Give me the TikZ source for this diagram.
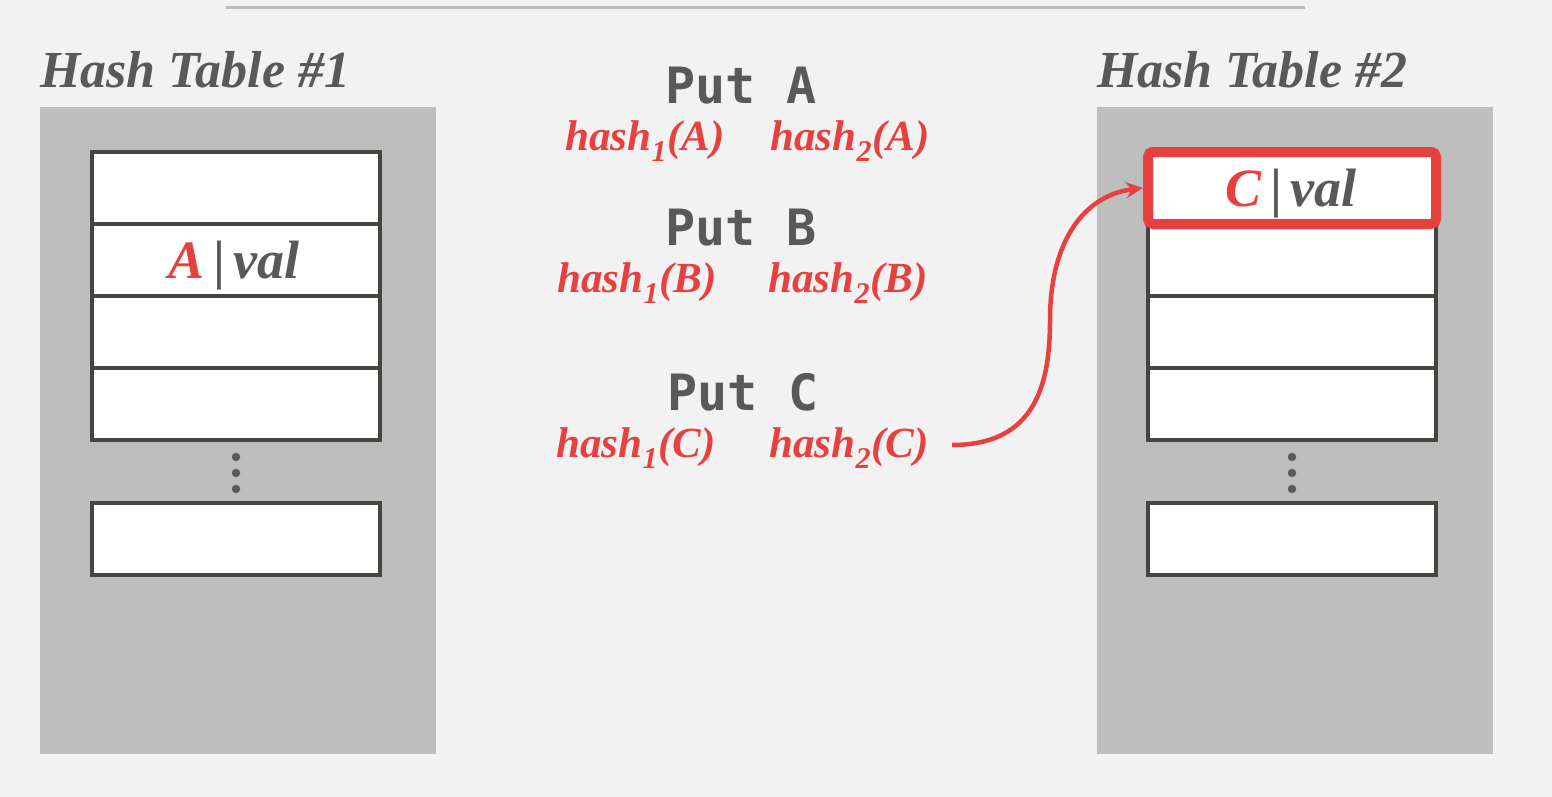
\documentclass[tikz,border=0pt]{standalone}
\usepackage{fontspec}
\setmainfont{Liberation Serif}
\setmonofont{DejaVu Sans Mono}
\usetikzlibrary{arrows.meta}
\definecolor{bg}{HTML}{F2F2F2}
\definecolor{panel}{HTML}{BEBEBE}
\definecolor{ink}{HTML}{595959}
\definecolor{cellline}{HTML}{46443F}
\definecolor{hot}{HTML}{E8403F}
\definecolor{rule}{HTML}{BBBBBB}
% key | value separator bar
\newcommand{\kvbar}{\,\textup{\textbf{|}}\,}
\begin{document}
\begin{tikzpicture}[x=1pt,y=-1pt,
  title/.style={font=\fontsize{52}{60}\selectfont\bfseries\itshape, text=ink, anchor=base west, inner sep=0},
  cmd/.style={font=\fontsize{50}{58}\selectfont\ttfamily\bfseries, text=ink, anchor=base, inner sep=0},
  hashlbl/.style={font=\fontsize{43}{50}\selectfont\bfseries\itshape, text=hot, anchor=base, inner sep=0},
  slot/.style={draw=cellline, fill=white, line width=4.5pt, minimum width=288pt, minimum height=72pt, inner sep=0, outer sep=0},
  entry/.style={font=\fontsize{54}{62}\selectfont\bfseries\itshape, text=ink, anchor=base, inner sep=0},
  dot/.style={circle, fill=ink, minimum size=8.5pt, inner sep=0},
  bucket/.style={fill=panel, draw=none}
]
\useasboundingbox (0,0) rectangle (1552,797);
\fill[bg] (0,0) rectangle (1552,797);
\draw[rule, line width=3pt] (226,8) -- (1305,8);

% panels
\fill[panel] (40,107) rectangle (436,754);
\fill[panel] (1097,107) rectangle (1493,754);

% titles
\node[title] (t1) at (40,88) {Hash Table \#1};
\node[title] (t2) at (1097,88) {Hash Table \#2};

% table 1
\node[slot] (l1) at (236,188) {};
\node[slot] (l2) at (236,260) {};
\node[slot] (l3) at (236,332) {};
\node[slot] (l4) at (236,404) {};
\node[slot] (l5) at (236,539) {};
\node[dot] (ld1) at (236,457) {};
\node[dot] (ld2) at (236,473) {};
\node[dot] (ld3) at (236,489) {};
\node[entry] (la) at (234,278) {\textcolor{hot}{A}\kvbar val};

% table 2
\node[slot] (r2) at (1292,260) {};
\node[slot] (r3) at (1292,332) {};
\node[slot] (r4) at (1292,404) {};
\node[slot] (r5) at (1292,539) {};
\node[slot] (r1) at (1292,188) {};
\node[dot] (rd1) at (1292,457) {};
\node[dot] (rd2) at (1292,473) {};
\node[dot] (rd3) at (1292,489) {};
\node[draw=hot, line width=10pt, rounded corners=5pt, minimum width=288pt, minimum height=72pt, inner sep=0] (rc) at (1292,188) {};
\node[entry] (rct) at (1291,206) {\textcolor{hot}{C}\kvbar val};

% operations
\node[cmd] (pa) at (741,104) {Put A};
\node[hashlbl] (h1a) at (645,150) {hash\textsubscript{1}(A)};
\node[hashlbl] (h2a) at (850,150) {hash\textsubscript{2}(A)};

\node[cmd] (pb) at (741,245) {Put B};
\node[hashlbl] (h1b) at (637,292) {hash\textsubscript{1}(B)};
\node[hashlbl] (h2b) at (848,292) {hash\textsubscript{2}(B)};

\node[cmd] (pc) at (743,410) {Put C};
\node[hashlbl] (h1c) at (636,457) {hash\textsubscript{1}(C)};
\node[hashlbl] (h2c) at (849,457) {hash\textsubscript{2}(C)};

% insertion of C into table 2
\coordinate (cs) at (952,445);
\draw[hot, line width=4.5pt, -{Stealth[length=17pt,width=16pt]}]
  (cs) .. controls (1035,445) and (1050,385) .. (1050,320)
       .. controls (1050,240) and (1085,195) .. (rc.west);
\end{tikzpicture}
\end{document}
